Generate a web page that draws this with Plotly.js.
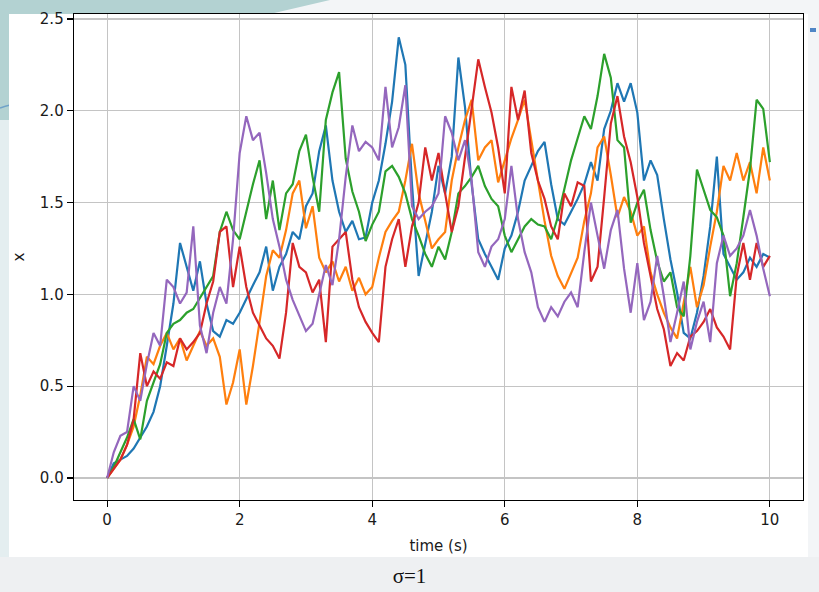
<!DOCTYPE html>
<html>
<head>
<meta charset="utf-8">
<script src="https://cdn.plot.ly/plotly-3.0.1.min.js"></script>
<style>
  html, body { margin: 0; padding: 0; }
  body { width: 819px; height: 592px; position: relative; overflow: hidden; background: #f3f5f7; }
  #bgTeal { position: absolute; left: 0; top: 0; width: 819px; height: 592px; }
  #card { position: absolute; left: 9px; top: 14px; width: 799px; height: 543px; background: #ffffff; }
  #bottomBand { position: absolute; left: 0; top: 557px; width: 819px; height: 35px; background: #eef0f2; }
  #chart { position: absolute; left: 0; top: 0; width: 819px; height: 592px; }
  #caption { position: absolute; left: 0; width: 819px; top: 564px; text-align: center;
             font-family: "Liberation Serif", "DejaVu Serif", serif; font-size: 21px; color: #111; }
  #dot { position: absolute; left: 810px; top: 28px; width: 6px; height: 4px; background: #4f86c6; }
</style>
</head>
<body>
<svg id="bgTeal" width="819" height="592">
  <polygon points="0,0 330,0 270,14 9,14 9,120 0,120" fill="#b3d2d2"/>
  <polygon points="0,120 9,120 9,557 0,557" fill="#e4eef0"/>
  <path d="M0,108 Q10,104 24,103" stroke="#6fa2c8" stroke-width="1.5" fill="none"/>
</svg>
<div id="card"></div>
<div id="bottomBand"></div>
<div id="dot"></div>
<div id="chart"></div>
<div id="caption">σ=1</div>
<script>
// time samples (s)
const time = Array.from({length: 101}, (_, i) => +(i * 0.1).toFixed(1));

const blue = [0,0.08,0.10,0.12,0.16,0.22,0.28,0.36,0.50,0.72,
  0.95,1.28,1.15,1.02,1.18,0.95,0.80,0.77,0.86,0.84,
  0.90,0.98,1.05,1.12,1.26,1.02,1.15,1.22,1.34,1.30,
  1.48,1.55,1.78,1.92,1.62,1.45,1.34,1.40,1.30,1.31,
  1.50,1.62,1.82,2.05,2.40,2.25,1.60,1.10,1.28,1.45,
  1.70,1.55,1.75,2.29,2.02,1.60,1.30,1.22,1.15,1.08,
  1.25,1.32,1.45,1.62,1.70,1.78,1.83,1.60,1.41,1.38,
  1.45,1.52,1.60,1.72,1.62,1.90,2.00,2.15,2.05,2.15,
  1.99,1.62,1.73,1.65,1.41,1.19,1.01,0.79,0.76,0.90,
  1.10,1.37,1.75,1.22,1.15,1.08,1.12,1.20,1.15,1.22,1.20];

const orange = [0,0.05,0.10,0.18,0.28,0.45,0.66,0.62,0.72,0.79,
  0.70,0.76,0.64,0.72,0.80,0.72,0.76,0.66,0.40,0.52,
  0.70,0.40,0.61,0.85,1.10,1.24,1.20,1.35,1.55,1.62,
  1.36,1.48,1.20,1.12,1.18,1.07,1.15,1.02,1.09,1.00,
  1.04,1.20,1.34,1.40,1.45,1.62,1.82,1.55,1.40,1.25,
  1.30,1.34,1.62,1.80,1.95,2.06,1.73,1.80,1.84,1.61,
  1.73,1.85,1.95,2.06,1.84,1.62,1.40,1.21,1.10,1.03,
  1.12,1.20,1.40,1.55,1.80,1.86,1.65,1.42,1.53,1.45,
  1.32,1.37,1.12,1.00,0.90,0.82,0.76,0.95,1.15,0.93,
  1.05,1.26,1.45,1.70,1.62,1.77,1.62,1.72,1.55,1.80,1.62];

const green = [0,0.06,0.14,0.22,0.32,0.21,0.42,0.52,0.62,0.79,
  0.84,0.86,0.90,0.92,0.98,1.04,1.10,1.34,1.45,1.35,
  1.30,1.45,1.60,1.73,1.41,1.62,1.35,1.55,1.60,1.78,
  1.87,1.64,1.45,1.95,2.10,2.21,1.74,1.56,1.45,1.29,
  1.38,1.45,1.67,1.70,1.64,1.55,1.41,1.32,1.22,1.15,
  1.26,1.19,1.34,1.55,1.59,1.64,1.70,1.59,1.52,1.48,
  1.32,1.23,1.30,1.37,1.41,1.38,1.37,1.30,1.42,1.58,
  1.73,1.85,1.97,1.90,2.08,2.31,2.18,1.84,1.80,1.39,
  1.50,1.57,1.35,1.18,1.07,1.12,0.93,0.88,1.21,1.68,
  1.57,1.46,1.42,1.32,0.99,1.17,1.42,1.68,2.06,2.01,1.72];

const red = [0,0.05,0.10,0.18,0.32,0.68,0.50,0.58,0.54,0.63,
  0.61,0.76,0.70,0.74,0.79,0.95,1.07,1.34,1.37,1.04,
  1.26,1.04,0.90,0.83,0.76,0.72,0.65,0.90,1.28,1.15,
  1.12,1.01,1.08,0.74,1.26,1.30,1.34,1.08,0.93,0.85,
  0.79,0.74,1.15,1.30,1.41,1.15,1.37,1.50,1.80,1.62,
  1.77,1.55,1.34,1.48,1.75,1.99,2.28,2.13,1.99,1.80,
  1.55,2.13,1.95,2.11,1.77,1.62,1.52,1.37,1.30,1.55,
  1.48,1.61,1.59,1.07,1.15,1.53,1.93,2.08,1.86,1.72,
  1.53,1.28,1.10,0.92,0.81,0.61,0.68,0.64,0.77,0.80,
  0.85,0.92,0.82,0.77,0.70,1.10,1.28,1.08,1.28,1.15,1.21];

const purple = [0,0.14,0.23,0.25,0.50,0.42,0.62,0.79,0.72,1.08,
  1.04,0.95,1.01,1.37,0.83,0.68,0.90,1.04,0.95,1.30,
  1.77,1.97,1.84,1.88,1.66,1.41,1.26,1.08,0.97,0.88,
  0.80,0.84,1.00,1.16,1.05,1.30,1.64,1.92,1.78,1.83,
  1.80,1.73,2.13,1.80,1.91,2.14,1.48,1.41,1.45,1.48,
  1.55,1.97,1.88,1.73,1.84,1.62,1.23,1.15,1.26,1.30,
  1.41,1.70,1.41,1.23,1.12,0.93,0.85,0.93,0.88,0.96,
  1.01,0.93,1.23,1.50,1.32,1.14,1.35,1.46,1.14,0.90,
  1.17,0.86,0.96,1.21,0.99,0.74,0.90,1.07,0.70,0.85,
  0.96,0.74,1.17,1.32,1.21,1.25,1.32,1.46,1.32,1.14,0.99];

const seriesValues = [blue, orange, green, red, purple];
const seriesColors = ["#1f77b4", "#ff7f0e", "#2ca02c", "#d62728", "#9467bd"];
const xTicks = [0, 2, 4, 6, 8, 10];
const yTicks = [0.0, 0.5, 1.0, 1.5, 2.0, 2.5];

const traces = seriesValues.map((vals, i) => ({
  x: time, y: vals, type: "scatter", mode: "lines",
  line: { color: seriesColors[i], width: 2.2 }, showlegend: false, hoverinfo: "skip"
}));

const labelFont = { family: "DejaVu Sans, sans-serif", size: 15, color: "#1a1a1a" };

const axisCommon = {
  showline: true, mirror: true, linecolor: "#000", linewidth: 1.3,
  ticks: "outside", ticklen: 6, tickwidth: 1.2, tickcolor: "#000",
  showgrid: true, gridcolor: "#c4c4c4", gridwidth: 1.2, zeroline: false,
  tickfont: labelFont
};

const layout = {
  width: 819, height: 592,
  paper_bgcolor: "rgba(0,0,0,0)", plot_bgcolor: "#ffffff",
  margin: { l: 74, r: 16, t: 14, b: 92 },
  xaxis: Object.assign({}, axisCommon, {
    range: [-0.5, 10.5], tickvals: xTicks, ticktext: xTicks.map(String),
    title: { text: "time (s)", font: labelFont, standoff: 12 }
  }),
  yaxis: Object.assign({}, axisCommon, {
    range: [-0.12, 2.527], tickvals: yTicks, ticktext: yTicks.map(v => v.toFixed(1)),
    title: { text: "x", font: labelFont, standoff: 11 }
  })
};

Plotly.newPlot("chart", traces, layout, { staticPlot: true, displayModeBar: false });
</script>
</body>
</html>
